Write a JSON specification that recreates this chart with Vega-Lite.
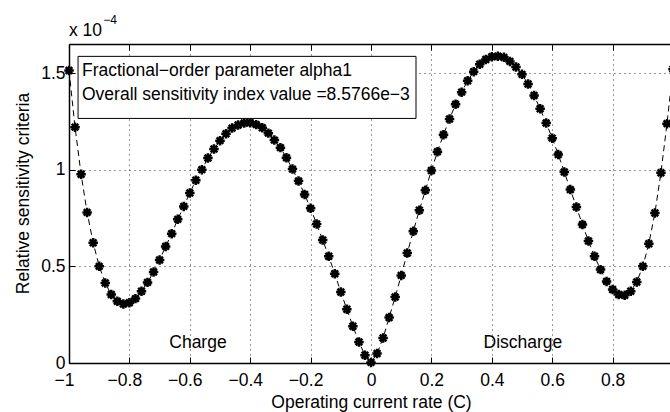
{
  "$schema": "https://vega.github.io/schema/vega-lite/v6.json",
  "width": 601,
  "height": 319,
  "autosize": {"type": "none"},
  "padding": {"left": 69, "top": 44, "right": 0, "bottom": 49},
  "background": "white",
  "config": {
    "view": {"stroke": null},
    "font": "Liberation Sans",
    "text": {"font": "Liberation Sans", "color": "black"}
  },
  "datasets": {
    "curve": [
      {"rate": -1.00, "sensitivity": 0.0001513},
      {"rate": -0.98, "sensitivity": 0.0001220},
      {"rate": -0.96, "sensitivity": 0.0000976},
      {"rate": -0.94, "sensitivity": 0.0000779},
      {"rate": -0.92, "sensitivity": 0.0000622},
      {"rate": -0.90, "sensitivity": 0.0000500},
      {"rate": -0.88, "sensitivity": 0.0000414},
      {"rate": -0.86, "sensitivity": 0.0000354},
      {"rate": -0.84, "sensitivity": 0.0000319},
      {"rate": -0.82, "sensitivity": 0.0000305},
      {"rate": -0.80, "sensitivity": 0.0000312},
      {"rate": -0.78, "sensitivity": 0.0000333},
      {"rate": -0.76, "sensitivity": 0.0000371},
      {"rate": -0.74, "sensitivity": 0.0000417},
      {"rate": -0.72, "sensitivity": 0.0000471},
      {"rate": -0.70, "sensitivity": 0.0000533},
      {"rate": -0.68, "sensitivity": 0.0000603},
      {"rate": -0.66, "sensitivity": 0.0000669},
      {"rate": -0.64, "sensitivity": 0.0000743},
      {"rate": -0.62, "sensitivity": 0.0000810},
      {"rate": -0.60, "sensitivity": 0.0000879},
      {"rate": -0.58, "sensitivity": 0.0000945},
      {"rate": -0.56, "sensitivity": 0.0001000},
      {"rate": -0.54, "sensitivity": 0.0001060},
      {"rate": -0.52, "sensitivity": 0.0001107},
      {"rate": -0.50, "sensitivity": 0.0001150},
      {"rate": -0.48, "sensitivity": 0.0001186},
      {"rate": -0.46, "sensitivity": 0.0001215},
      {"rate": -0.44, "sensitivity": 0.0001231},
      {"rate": -0.42, "sensitivity": 0.0001241},
      {"rate": -0.40, "sensitivity": 0.0001243},
      {"rate": -0.38, "sensitivity": 0.0001233},
      {"rate": -0.36, "sensitivity": 0.0001217},
      {"rate": -0.34, "sensitivity": 0.0001189},
      {"rate": -0.32, "sensitivity": 0.0001153},
      {"rate": -0.30, "sensitivity": 0.0001114},
      {"rate": -0.28, "sensitivity": 0.0001062},
      {"rate": -0.26, "sensitivity": 0.0001003},
      {"rate": -0.24, "sensitivity": 0.0000941},
      {"rate": -0.22, "sensitivity": 0.0000872},
      {"rate": -0.20, "sensitivity": 0.0000800},
      {"rate": -0.18, "sensitivity": 0.0000719},
      {"rate": -0.16, "sensitivity": 0.0000636},
      {"rate": -0.14, "sensitivity": 0.0000552},
      {"rate": -0.12, "sensitivity": 0.0000462},
      {"rate": -0.10, "sensitivity": 0.0000367},
      {"rate": -0.08, "sensitivity": 0.0000278},
      {"rate": -0.06, "sensitivity": 0.0000190},
      {"rate": -0.04, "sensitivity": 0.0000109},
      {"rate": -0.02, "sensitivity": 0.0000040},
      {"rate": 0.00, "sensitivity": 0.0000003},
      {"rate": 0.02, "sensitivity": 0.0000049},
      {"rate": 0.04, "sensitivity": 0.0000129},
      {"rate": 0.06, "sensitivity": 0.0000235},
      {"rate": 0.08, "sensitivity": 0.0000341},
      {"rate": 0.10, "sensitivity": 0.0000453},
      {"rate": 0.12, "sensitivity": 0.0000569},
      {"rate": 0.14, "sensitivity": 0.0000681},
      {"rate": 0.16, "sensitivity": 0.0000790},
      {"rate": 0.18, "sensitivity": 0.0000893},
      {"rate": 0.20, "sensitivity": 0.0000996},
      {"rate": 0.22, "sensitivity": 0.0001093},
      {"rate": 0.24, "sensitivity": 0.0001181},
      {"rate": 0.26, "sensitivity": 0.0001262},
      {"rate": 0.28, "sensitivity": 0.0001338},
      {"rate": 0.30, "sensitivity": 0.0001401},
      {"rate": 0.32, "sensitivity": 0.0001460},
      {"rate": 0.34, "sensitivity": 0.0001507},
      {"rate": 0.36, "sensitivity": 0.0001545},
      {"rate": 0.38, "sensitivity": 0.0001570},
      {"rate": 0.40, "sensitivity": 0.0001584},
      {"rate": 0.42, "sensitivity": 0.0001587},
      {"rate": 0.44, "sensitivity": 0.0001581},
      {"rate": 0.46, "sensitivity": 0.0001560},
      {"rate": 0.48, "sensitivity": 0.0001531},
      {"rate": 0.50, "sensitivity": 0.0001493},
      {"rate": 0.52, "sensitivity": 0.0001443},
      {"rate": 0.54, "sensitivity": 0.0001384},
      {"rate": 0.56, "sensitivity": 0.0001315},
      {"rate": 0.58, "sensitivity": 0.0001241},
      {"rate": 0.60, "sensitivity": 0.0001163},
      {"rate": 0.62, "sensitivity": 0.0001078},
      {"rate": 0.64, "sensitivity": 0.0000988},
      {"rate": 0.66, "sensitivity": 0.0000897},
      {"rate": 0.68, "sensitivity": 0.0000807},
      {"rate": 0.70, "sensitivity": 0.0000716},
      {"rate": 0.72, "sensitivity": 0.0000631},
      {"rate": 0.74, "sensitivity": 0.0000552},
      {"rate": 0.76, "sensitivity": 0.0000483},
      {"rate": 0.78, "sensitivity": 0.0000422},
      {"rate": 0.80, "sensitivity": 0.0000380},
      {"rate": 0.82, "sensitivity": 0.0000354},
      {"rate": 0.84, "sensitivity": 0.0000350},
      {"rate": 0.86, "sensitivity": 0.0000371},
      {"rate": 0.88, "sensitivity": 0.0000419},
      {"rate": 0.90, "sensitivity": 0.0000500},
      {"rate": 0.92, "sensitivity": 0.0000617},
      {"rate": 0.94, "sensitivity": 0.0000776},
      {"rate": 0.96, "sensitivity": 0.0000984},
      {"rate": 0.98, "sensitivity": 0.0001238},
      {"rate": 1.00, "sensitivity": 0.0001520}
    ]
  },
  "layer": [
    {
      "data": {"name": "curve"},
      "mark": {"type": "line", "color": "black", "strokeWidth": 1, "strokeDash": [6, 4]},
      "encoding": {
        "x": {
          "field": "rate", "type": "quantitative",
          "scale": {"domain": [-1, 0.99], "nice": false, "zero": false},
          "axis": {
            "orient": "bottom",
            "values": [-1, -0.8, -0.6, -0.4, -0.2, 0, 0.2, 0.4, 0.6, 0.8],
            "format": "~g",
            "labelFlush": false,
            "labelOffset": {"condition": {"test": "datum.value < 0", "value": -5}, "value": 0},
            "title": "Operating current rate (C)",
            "grid": true, "gridDash": [1, 4], "gridColor": "#333", "gridWidth": 1,
            "tickSize": -6, "tickColor": "black", "tickWidth": 1,
            "domainColor": "black", "domainWidth": 1.5,
            "labelFont": "Liberation Sans", "labelFontSize": 17.5, "labelColor": "black", "labelPadding": 14,
            "titleFont": "Liberation Sans", "titleFontSize": 17.5, "titleFontWeight": "normal", "titleColor": "black",
            "titleX": 302, "titleY": 44, "titleBaseline": "alphabetic"
          }
        },
        "y": {
          "field": "sensitivity", "type": "quantitative",
          "scale": {"domain": [0, 0.000165], "nice": false, "zero": false},
          "axis": {
            "orient": "left",
            "values": [0, 0.00005, 0.0001, 0.00015],
            "labelExpr": "format(datum.value * 10000, '~g')",
            "title": "Relative sensitivity criteria",
            "grid": true, "gridDash": [1, 4], "gridColor": "#333", "gridWidth": 1,
            "tickSize": -6, "tickColor": "black", "tickWidth": 1,
            "domainColor": "black", "domainWidth": 1.5,
            "labelFont": "Liberation Sans", "labelFontSize": 17.5, "labelColor": "black", "labelPadding": 10,
            "titleFont": "Liberation Sans", "titleFontSize": 17.5, "titleFontWeight": "normal", "titleColor": "black",
            "titleX": -37, "titleY": 149
          }
        }
      }
    },
    {
      "data": {"name": "curve"},
      "mark": {"type": "point", "shape": "M-1,0L1,0M0,-1L0,1M-0.7,-0.7L0.7,0.7M-0.7,0.7L0.7,-0.7", "filled": false, "stroke": "black", "strokeWidth": 2.5, "size": 90, "opacity": 1},
      "encoding": {
        "x": {
          "field": "rate", "type": "quantitative",
          "axis": {
            "orient": "top", "labels": false, "title": null, "grid": false,
            "values": [-1, -0.8, -0.6, -0.4, -0.2, 0, 0.2, 0.4, 0.6, 0.8],
            "tickSize": -6, "tickColor": "black", "domainColor": "black", "domainWidth": 1.5
          }
        },
        "y": {"field": "sensitivity", "type": "quantitative"}
      }
    },
    {
      "data": {"name": "curve"},
      "mark": {"type": "point", "shape": "circle", "filled": true, "color": "black", "size": 30, "opacity": 1},
      "encoding": {
        "x": {"field": "rate", "type": "quantitative", "axis": null},
        "y": {"field": "sensitivity", "type": "quantitative"}
      }
    },
    {
      "data": {"values": [{}]},
      "mark": {"type": "rect", "fill": "white", "stroke": "black", "strokeWidth": 1},
      "encoding": {
        "x": {"datum": -0.970, "type": "quantitative", "axis": null},
        "x2": {"datum": 0.149},
        "y": {"datum": 0.0001586, "type": "quantitative"},
        "y2": {"datum": 0.0001265}
      }
    },
    {
      "data": {"values": [{}]},
      "mark": {"type": "text", "align": "left", "baseline": "alphabetic", "fontSize": 17.5, "font": "Liberation Sans", "color": "black"},
      "encoding": {
        "x": {"datum": -0.957, "type": "quantitative", "axis": null},
        "y": {"datum": 0.0001482, "type": "quantitative"},
        "text": {"value": "Fractional−order parameter alpha1"}
      }
    },
    {
      "data": {"values": [{}]},
      "mark": {"type": "text", "align": "left", "baseline": "alphabetic", "fontSize": 17.5, "font": "Liberation Sans", "color": "black"},
      "encoding": {
        "x": {"datum": -0.957, "type": "quantitative", "axis": null},
        "y": {"datum": 0.0001358, "type": "quantitative"},
        "text": {"value": "Overall sensitivity index value =8.5766e−3"}
      }
    },
    {
      "data": {"values": [{}]},
      "mark": {"type": "text", "align": "center", "baseline": "alphabetic", "fontSize": 17.5, "font": "Liberation Sans", "color": "black"},
      "encoding": {
        "x": {"datum": -0.573, "type": "quantitative", "axis": null},
        "y": {"datum": 0.0000076, "type": "quantitative"},
        "text": {"value": "Charge"}
      }
    },
    {
      "data": {"values": [{}]},
      "mark": {"type": "text", "align": "center", "baseline": "alphabetic", "fontSize": 17.5, "font": "Liberation Sans", "color": "black"},
      "encoding": {
        "x": {"datum": 0.503, "type": "quantitative", "axis": null},
        "y": {"datum": 0.0000076, "type": "quantitative"},
        "text": {"value": "Discharge"}
      }
    },
    {
      "data": {"values": [{}]},
      "mark": {"type": "text", "align": "left", "baseline": "alphabetic", "fontSize": 17.5, "font": "Liberation Sans", "color": "black"},
      "encoding": {
        "x": {"datum": -1, "type": "quantitative", "axis": null},
        "y": {"datum": 0.0001689, "type": "quantitative"},
        "text": {"value": "x 10"}
      }
    },
    {
      "data": {"values": [{}]},
      "mark": {"type": "text", "align": "left", "baseline": "alphabetic", "fontSize": 12, "font": "Liberation Sans", "color": "black"},
      "encoding": {
        "x": {"datum": -0.887, "type": "quantitative", "axis": null},
        "y": {"datum": 0.0001751, "type": "quantitative"},
        "text": {"value": "−4"}
      }
    }
  ]
}
